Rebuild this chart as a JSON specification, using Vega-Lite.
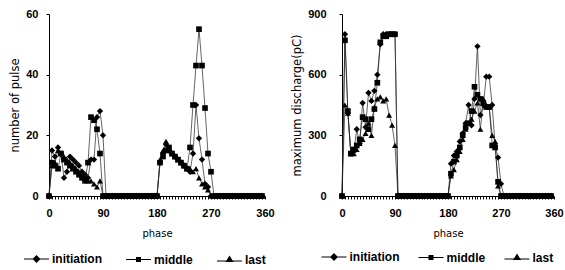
{
"$schema": "https://vega.github.io/schema/vega-lite/v6.json",
"padding": {"left": 9, "top": 8, "right": 0, "bottom": 0},
"datasets": {
"pulse": [
{"p":0,"initiation":0,"middle":0,"last":0},
{"p":5,"initiation":15,"middle":11,"last":10},
{"p":10,"initiation":13,"middle":10,"last":11},
{"p":15,"initiation":16,"middle":9,"last":15},
{"p":20,"initiation":14,"middle":14,"last":14},
{"p":25,"initiation":6,"middle":12,"last":13},
{"p":30,"initiation":8,"middle":11,"last":12},
{"p":35,"initiation":13,"middle":10,"last":11},
{"p":40,"initiation":12,"middle":9,"last":10},
{"p":45,"initiation":11,"middle":8,"last":9},
{"p":50,"initiation":10,"middle":7,"last":8},
{"p":55,"initiation":8,"middle":6,"last":7},
{"p":60,"initiation":7,"middle":5,"last":6},
{"p":65,"initiation":6,"middle":11,"last":5},
{"p":70,"initiation":12,"middle":26,"last":5},
{"p":75,"initiation":12,"middle":25,"last":4},
{"p":80,"initiation":26,"middle":22,"last":3},
{"p":85,"initiation":28,"middle":14,"last":5},
{"p":90,"initiation":20,"middle":0,"last":0},
{"p":95,"initiation":0,"middle":0,"last":0},
{"p":100,"initiation":0,"middle":0,"last":0},
{"p":105,"initiation":0,"middle":0,"last":0},
{"p":110,"initiation":0,"middle":0,"last":0},
{"p":115,"initiation":0,"middle":0,"last":0},
{"p":120,"initiation":0,"middle":0,"last":0},
{"p":125,"initiation":0,"middle":0,"last":0},
{"p":130,"initiation":0,"middle":0,"last":0},
{"p":135,"initiation":0,"middle":0,"last":0},
{"p":140,"initiation":0,"middle":0,"last":0},
{"p":145,"initiation":0,"middle":0,"last":0},
{"p":150,"initiation":0,"middle":0,"last":0},
{"p":155,"initiation":0,"middle":0,"last":0},
{"p":160,"initiation":0,"middle":0,"last":0},
{"p":165,"initiation":0,"middle":0,"last":0},
{"p":170,"initiation":0,"middle":0,"last":0},
{"p":175,"initiation":0,"middle":0,"last":0},
{"p":180,"initiation":0,"middle":0,"last":0},
{"p":185,"initiation":11,"middle":11,"last":12},
{"p":190,"initiation":14,"middle":13,"last":15},
{"p":195,"initiation":17,"middle":15,"last":18},
{"p":200,"initiation":15,"middle":16,"last":16},
{"p":205,"initiation":14,"middle":14,"last":14},
{"p":210,"initiation":13,"middle":13,"last":13},
{"p":215,"initiation":12,"middle":12,"last":12},
{"p":220,"initiation":11,"middle":11,"last":11},
{"p":225,"initiation":10,"middle":10,"last":10},
{"p":230,"initiation":9,"middle":9,"last":9},
{"p":235,"initiation":8,"middle":16,"last":9},
{"p":240,"initiation":14,"middle":30,"last":8},
{"p":245,"initiation":30,"middle":43,"last":9},
{"p":250,"initiation":19,"middle":55,"last":6},
{"p":255,"initiation":12,"middle":43,"last":4},
{"p":260,"initiation":4,"middle":29,"last":3},
{"p":265,"initiation":3,"middle":14,"last":2},
{"p":270,"initiation":0,"middle":8,"last":0},
{"p":275,"initiation":0,"middle":0,"last":0},
{"p":280,"initiation":0,"middle":0,"last":0},
{"p":285,"initiation":0,"middle":0,"last":0},
{"p":290,"initiation":0,"middle":0,"last":0},
{"p":295,"initiation":0,"middle":0,"last":0},
{"p":300,"initiation":0,"middle":0,"last":0},
{"p":305,"initiation":0,"middle":0,"last":0},
{"p":310,"initiation":0,"middle":0,"last":0},
{"p":315,"initiation":0,"middle":0,"last":0},
{"p":320,"initiation":0,"middle":0,"last":0},
{"p":325,"initiation":0,"middle":0,"last":0},
{"p":330,"initiation":0,"middle":0,"last":0},
{"p":335,"initiation":0,"middle":0,"last":0},
{"p":340,"initiation":0,"middle":0,"last":0},
{"p":345,"initiation":0,"middle":0,"last":0},
{"p":350,"initiation":0,"middle":0,"last":0},
{"p":355,"initiation":0,"middle":0,"last":0}
],
"dis": [
{"p":0,"initiation":0,"middle":0,"last":0},
{"p":5,"initiation":800,"middle":770,"last":450},
{"p":10,"initiation":410,"middle":420,"last":410},
{"p":15,"initiation":210,"middle":210,"last":210},
{"p":20,"initiation":220,"middle":230,"last":210},
{"p":25,"initiation":330,"middle":250,"last":230},
{"p":30,"initiation":260,"middle":280,"last":260},
{"p":35,"initiation":460,"middle":390,"last":280},
{"p":40,"initiation":340,"middle":380,"last":310},
{"p":45,"initiation":510,"middle":330,"last":360},
{"p":50,"initiation":470,"middle":380,"last":300},
{"p":55,"initiation":520,"middle":430,"last":440},
{"p":60,"initiation":600,"middle":560,"last":480},
{"p":65,"initiation":750,"middle":760,"last":490},
{"p":70,"initiation":800,"middle":790,"last":470},
{"p":75,"initiation":800,"middle":790,"last":480},
{"p":80,"initiation":800,"middle":800,"last":400},
{"p":85,"initiation":800,"middle":800,"last":350},
{"p":90,"initiation":800,"middle":800,"last":250},
{"p":95,"initiation":0,"middle":0,"last":0},
{"p":100,"initiation":0,"middle":0,"last":0},
{"p":105,"initiation":0,"middle":0,"last":0},
{"p":110,"initiation":0,"middle":0,"last":0},
{"p":115,"initiation":0,"middle":0,"last":0},
{"p":120,"initiation":0,"middle":0,"last":0},
{"p":125,"initiation":0,"middle":0,"last":0},
{"p":130,"initiation":0,"middle":0,"last":0},
{"p":135,"initiation":0,"middle":0,"last":0},
{"p":140,"initiation":0,"middle":0,"last":0},
{"p":145,"initiation":0,"middle":0,"last":0},
{"p":150,"initiation":0,"middle":0,"last":0},
{"p":155,"initiation":0,"middle":0,"last":0},
{"p":160,"initiation":0,"middle":0,"last":0},
{"p":165,"initiation":0,"middle":0,"last":0},
{"p":170,"initiation":0,"middle":0,"last":0},
{"p":175,"initiation":0,"middle":0,"last":0},
{"p":180,"initiation":0,"middle":0,"last":0},
{"p":185,"initiation":160,"middle":110,"last":100},
{"p":190,"initiation":200,"middle":170,"last":130},
{"p":195,"initiation":220,"middle":200,"last":180},
{"p":200,"initiation":270,"middle":240,"last":220},
{"p":205,"initiation":310,"middle":300,"last":280},
{"p":210,"initiation":360,"middle":340,"last":330},
{"p":215,"initiation":450,"middle":360,"last":360},
{"p":220,"initiation":350,"middle":420,"last":380},
{"p":225,"initiation":480,"middle":540,"last":420},
{"p":230,"initiation":740,"middle":500,"last":460},
{"p":235,"initiation":400,"middle":480,"last":330},
{"p":240,"initiation":450,"middle":460,"last":480},
{"p":245,"initiation":590,"middle":440,"last":450},
{"p":250,"initiation":590,"middle":440,"last":440},
{"p":255,"initiation":450,"middle":250,"last":300},
{"p":260,"initiation":250,"middle":240,"last":270},
{"p":265,"initiation":190,"middle":70,"last":50},
{"p":270,"initiation":60,"middle":0,"last":0},
{"p":275,"initiation":0,"middle":0,"last":0},
{"p":280,"initiation":0,"middle":0,"last":0},
{"p":285,"initiation":0,"middle":0,"last":0},
{"p":290,"initiation":0,"middle":0,"last":0},
{"p":295,"initiation":0,"middle":0,"last":0},
{"p":300,"initiation":0,"middle":0,"last":0},
{"p":305,"initiation":0,"middle":0,"last":0},
{"p":310,"initiation":0,"middle":0,"last":0},
{"p":315,"initiation":0,"middle":0,"last":0},
{"p":320,"initiation":0,"middle":0,"last":0},
{"p":325,"initiation":0,"middle":0,"last":0},
{"p":330,"initiation":0,"middle":0,"last":0},
{"p":335,"initiation":0,"middle":0,"last":0},
{"p":340,"initiation":0,"middle":0,"last":0},
{"p":345,"initiation":0,"middle":0,"last":0},
{"p":350,"initiation":0,"middle":0,"last":0},
{"p":355,"initiation":0,"middle":0,"last":0}
]
},
"config": {
"view": {"stroke": null},
"axis": {"grid": false, "domainColor": "black", "tickColor": "black", "tickSize": 3, "labelFont": "Liberation Sans", "labelFontWeight": "bold", "labelFontSize": 11, "labelColor": "black", "titleFont": "DejaVu Sans", "titleFontWeight": "normal", "titleFontSize": 11.5, "titleColor": "black"},
"axisX": {"labelPadding": 8, "titleFontSize": 10, "titlePadding": 10, "labelOverlap": false, "labelFlush": false},
"axisY": {"labelPadding": 8, "titlePadding": 5},
"legend": {"orient": "none", "direction": "horizontal", "labelFont": "Liberation Sans", "labelFontWeight": "bold", "labelFontSize": 12, "labelColor": "black", "symbolSize": 100, "labelOffset": 9.5, "columnPadding": 20}
},
"spacing": 16,
"resolve": {"scale": {"shape": "independent"}, "legend": {"shape": "independent"}},
"hconcat": [
{
"width": 216, "height": 182,
"data": {"name": "pulse"},
"transform": [{"fold": ["initiation", "middle", "last"], "as": ["series", "v"]}],
"encoding": {
  "x": {"field": "p", "type": "quantitative", "scale": {"domain": [0, 360]}, "axis": {"values": [0,5,10,15,20,25,30,35,40,45,50,55,60,65,70,75,80,85,90,95,100,105,110,115,120,125,130,135,140,145,150,155,160,165,170,175,180,185,190,195,200,205,210,215,220,225,230,235,240,245,250,255,260,265,270,275,280,285,290,295,300,305,310,315,320,325,330,335,340,345,350,355,360], "labelExpr": "datum.value % 90 === 0 ? datum.label : ''", "title": "phase"}},
  "y": {"field": "v", "type": "quantitative", "scale": {"domain": [0, 60]}, "axis": {"values": [0, 20, 40, 60], "title": "number of pulse"}}
},
"layer": [
{"mark": {"type": "line", "color": "#222", "strokeWidth": 0.7},
 "encoding": {"detail": {"field": "series"}}},
{"transform": [{"filter": "datum.series === 'initiation'"}],
 "mark": {"type": "point", "shape": "diamond", "filled": true, "color": "black", "size": 40, "opacity": 1},
 "encoding": {}},
{"transform": [{"filter": "datum.series === 'middle'"}],
 "mark": {"type": "point", "shape": "square", "filled": true, "color": "black", "size": 32, "opacity": 1},
 "encoding": {}},
{"transform": [{"filter": "datum.series === 'last'"}],
 "mark": {"type": "point", "shape": "triangle-up", "filled": true, "color": "black", "size": 36, "opacity": 1},
 "encoding": {}},
{"mark": {"type": "point", "filled": true, "color": "black", "opacity": 0},
 "encoding": {
  "shape": {"field": "series", "type": "nominal", "scale": {"domain": ["initiation", "middle", "last"], "range": ["M-2.5,-0.1H2.5V0.1H-2.5ZM0,-0.8L0.8,0L0,0.8L-0.8,0Z", "M-2.5,-0.1H2.5V0.1H-2.5ZM-0.5,-0.5H0.5V0.5H-0.5Z", "M-2.5,0.2H2.5V0.4H-2.5ZM0,-0.8L0.8,0.5H-0.8Z"]},
  "legend": {"title": null, "legendX": -18.5, "legendY": 239, "encode": {"symbols": {"update": {"fill": {"value": "black"}, "opacity": {"value": 1}}}}}}}}
]
},
{
"width": 212, "height": 182,
"data": {"name": "dis"},
"transform": [{"fold": ["initiation", "middle", "last"], "as": ["series", "v"]}],
"encoding": {
  "x": {"field": "p", "type": "quantitative", "scale": {"domain": [0, 360]}, "axis": {"values": [0,5,10,15,20,25,30,35,40,45,50,55,60,65,70,75,80,85,90,95,100,105,110,115,120,125,130,135,140,145,150,155,160,165,170,175,180,185,190,195,200,205,210,215,220,225,230,235,240,245,250,255,260,265,270,275,280,285,290,295,300,305,310,315,320,325,330,335,340,345,350,355,360], "labelExpr": "datum.value % 90 === 0 ? datum.label : ''", "title": "phase"}},
  "y": {"field": "v", "type": "quantitative", "scale": {"domain": [0, 900]}, "axis": {"values": [0, 300, 600, 900], "title": "maximum discharge(pC)", "labelPadding": 13}}
},
"layer": [
{"mark": {"type": "line", "color": "#222", "strokeWidth": 0.7},
 "encoding": {"detail": {"field": "series"}}},
{"transform": [{"filter": "datum.series === 'initiation'"}],
 "mark": {"type": "point", "shape": "diamond", "filled": true, "color": "black", "size": 40, "opacity": 1},
 "encoding": {}},
{"transform": [{"filter": "datum.series === 'middle'"}],
 "mark": {"type": "point", "shape": "square", "filled": true, "color": "black", "size": 32, "opacity": 1},
 "encoding": {}},
{"transform": [{"filter": "datum.series === 'last'"}],
 "mark": {"type": "point", "shape": "triangle-up", "filled": true, "color": "black", "size": 36, "opacity": 1},
 "encoding": {}},
{"mark": {"type": "point", "filled": true, "color": "black", "opacity": 0},
 "encoding": {
  "shape": {"field": "series", "type": "nominal", "scale": {"domain": ["initiation", "middle", "last"], "range": ["M-2.5,-0.1H2.5V0.1H-2.5ZM0,-0.8L0.8,0L0,0.8L-0.8,0Z", "M-2.5,-0.1H2.5V0.1H-2.5ZM-0.5,-0.5H0.5V0.5H-0.5Z", "M-2.5,0.2H2.5V0.4H-2.5ZM0,-0.8L0.8,0.5H-0.8Z"]},
  "legend": {"title": null, "legendX": -14, "legendY": 237, "columnPadding": 15, "encode": {"symbols": {"update": {"fill": {"value": "black"}, "opacity": {"value": 1}}}}}}}}
]
}
]
}
